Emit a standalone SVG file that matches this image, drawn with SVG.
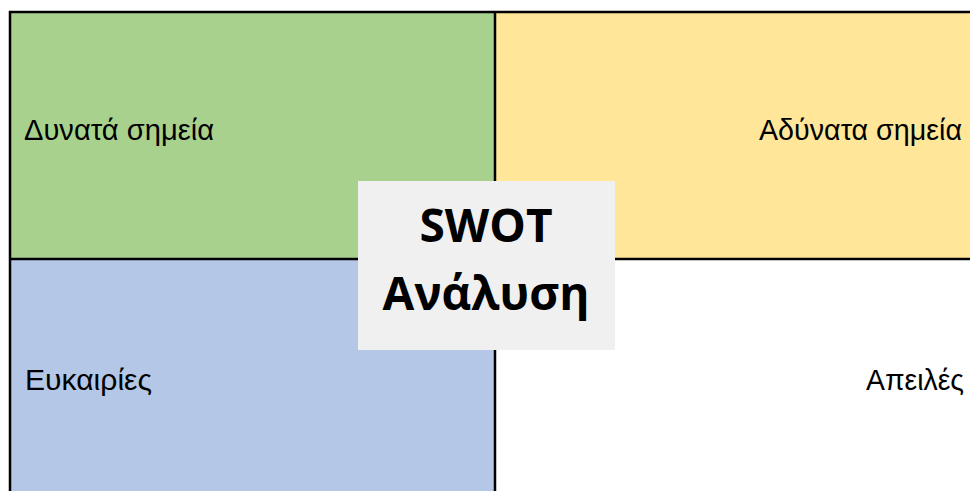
<svg xmlns="http://www.w3.org/2000/svg" width="970" height="491" viewBox="0 0 970 491">
<style>
.lbl{font-family:"Liberation Sans",Arial,sans-serif;font-size:29px;fill:#000}
.ttl{font-family:"Open Sans","Noto Sans",sans-serif;font-weight:bold;font-size:46px;fill:#000;text-anchor:middle}
.ln{stroke:#000;stroke-width:2.5;fill:none}
</style>
<rect width="970" height="491" fill="#fff"/>
<g id="strengths"><rect x="10" y="12" width="485" height="247" fill="#A9D18E"/><text class="lbl" x="24" y="140" textLength="190" lengthAdjust="spacingAndGlyphs">Δυνατά σημεία</text></g>
<g id="weaknesses"><rect x="495" y="12" width="475" height="247" fill="#FFE699"/><text class="lbl" x="759" y="140" textLength="203" lengthAdjust="spacingAndGlyphs">Αδύνατα σημεία</text></g>
<g id="opportunities"><rect x="10" y="259" width="485" height="232" fill="#B4C7E7"/><text class="lbl" x="25" y="390" textLength="127" lengthAdjust="spacingAndGlyphs">Ευκαιρίες</text></g>
<g id="threats"><rect x="495" y="259" width="475" height="232" fill="#fff"/><text class="lbl" x="866" y="390" textLength="98" lengthAdjust="spacingAndGlyphs">Απειλές</text></g>
<g id="grid">
<path class="ln" d="M10 491V12H970M495 12V491M10 259H970"/>
</g>
<g id="center"><rect x="358" y="181" width="257" height="169" fill="#F0F0F0"/>
<text class="ttl" x="486" y="242">SWOT</text>
<text class="ttl" x="486" y="310">Ανάλυση</text></g>
</svg>
